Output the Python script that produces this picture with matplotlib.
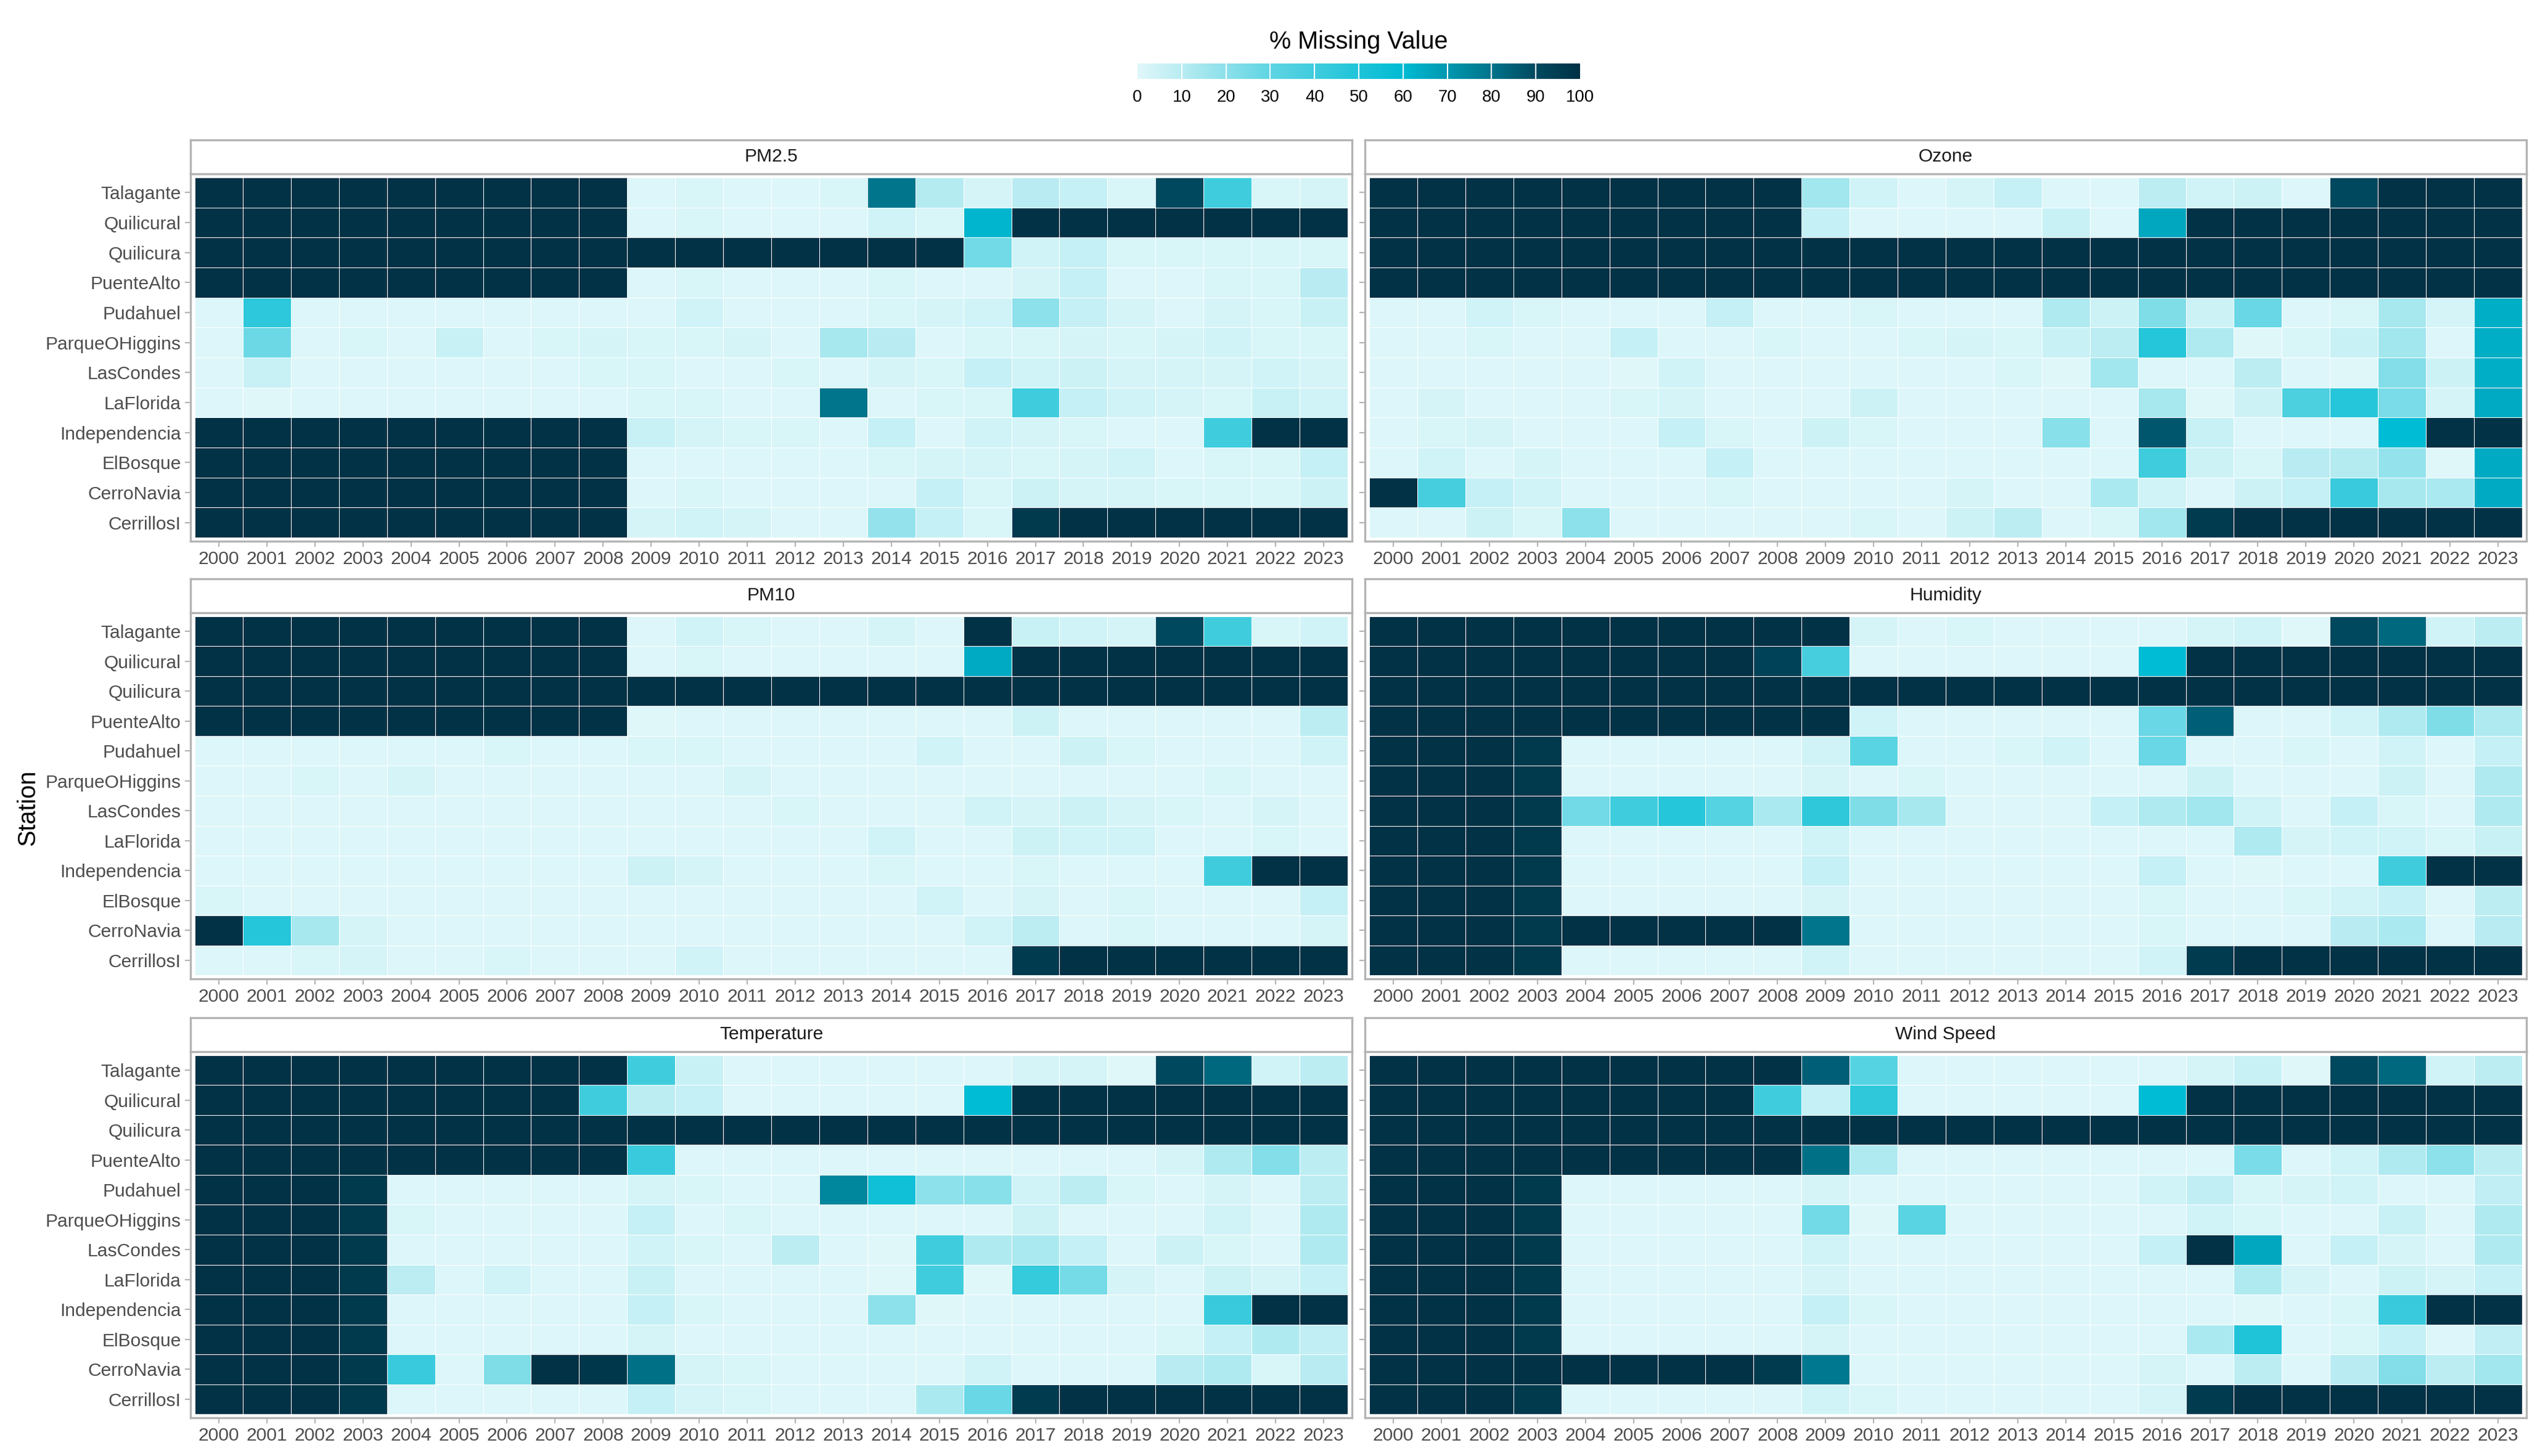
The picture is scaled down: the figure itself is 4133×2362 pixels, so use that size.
import numpy as np
import matplotlib
matplotlib.use('Agg')
import matplotlib.pyplot as plt
from matplotlib.colors import LinearSegmentedColormap
from matplotlib import font_manager

stations = ['Talagante', 'Quilicural', 'Quilicura', 'PuenteAlto', 'Pudahuel', 'ParqueOHiggins',
            'LasCondes', 'LaFlorida', 'Independencia', 'ElBosque', 'CerroNavia', 'CerrillosI']
years = ['2000', '2001', '2002', '2003', '2004', '2005', '2006', '2007', '2008', '2009', '2010', '2011',
         '2012', '2013', '2014', '2015', '2016', '2017', '2018', '2019', '2020', '2021', '2022', '2023']
variables = ['PM2.5', 'Ozone', 'PM10', 'Humidity', 'Temperature', 'Wind Speed']
cbar_ticks = [0, 10, 20, 30, 40, 50, 60, 70, 80, 90, 100]

# % missing per station (rows, top to bottom) and year (columns)
pm25 = [
    [100, 100, 100, 100, 100, 100, 100, 100, 100, 1, 2, 1, 1, 2, 80, 11, 3, 10, 7, 2, 91, 40, 2, 3],
    [100, 100, 100, 100, 100, 100, 100, 100, 100, 1, 2, 1, 1, 1, 4, 2, 62, 100, 100, 100, 100, 100, 100, 100],
    [100, 100, 100, 100, 100, 100, 100, 100, 100, 100, 100, 100, 100, 100, 100, 100, 26, 4, 7, 2, 2, 2, 2, 2],
    [100, 100, 100, 100, 100, 100, 100, 100, 100, 1, 2, 1, 1, 1, 2, 1, 1, 3, 7, 1, 1, 2, 2, 10],
    [1, 46, 1, 1, 1, 1, 1, 1, 1, 1, 4, 1, 1, 1, 2, 3, 4, 20, 7, 3, 1, 3, 2, 6],
    [1, 27, 1, 2, 1, 6, 1, 2, 3, 2, 2, 3, 1, 14, 10, 1, 2, 2, 3, 2, 3, 4, 2, 2],
    [1, 6, 1, 1, 1, 1, 1, 1, 2, 2, 1, 1, 2, 1, 3, 2, 7, 4, 5, 3, 3, 3, 4, 3],
    [1, 0, 1, 1, 1, 1, 1, 1, 1, 2, 2, 1, 1, 80, 1, 2, 2, 40, 7, 4, 3, 2, 6, 4],
    [100, 100, 100, 100, 100, 100, 100, 100, 100, 6, 3, 2, 2, 1, 7, 1, 4, 3, 2, 1, 1, 40, 100, 100],
    [100, 100, 100, 100, 100, 100, 100, 100, 100, 1, 1, 1, 1, 1, 2, 3, 3, 2, 3, 4, 1, 2, 2, 7],
    [100, 100, 100, 100, 100, 100, 100, 100, 100, 1, 2, 1, 1, 1, 1, 7, 2, 5, 3, 3, 2, 2, 2, 5],
    [100, 100, 100, 100, 100, 100, 100, 100, 100, 3, 4, 3, 1, 1, 18, 7, 2, 97, 100, 100, 100, 100, 100, 100],
]

ozone = [
    [100, 100, 100, 100, 100, 100, 100, 100, 100, 15, 4, 1, 3, 7, 1, 1, 9, 4, 5, 1, 91, 100, 100, 100],
    [100, 100, 100, 100, 100, 100, 100, 100, 100, 7, 1, 1, 1, 1, 6, 1, 66, 100, 100, 100, 100, 100, 100, 100],
    [100, 100, 100, 100, 100, 100, 100, 100, 100, 100, 100, 100, 100, 100, 100, 100, 100, 100, 100, 100, 100, 100, 100, 100],
    [100, 100, 100, 100, 100, 100, 100, 100, 100, 100, 100, 100, 100, 100, 100, 100, 100, 100, 100, 100, 100, 100, 100, 100],
    [1, 1, 4, 2, 1, 1, 1, 7, 1, 1, 2, 1, 1, 1, 12, 5, 23, 5, 28, 1, 2, 14, 3, 64],
    [1, 1, 2, 1, 1, 7, 1, 1, 2, 1, 1, 2, 3, 2, 6, 9, 48, 12, 0, 2, 6, 15, 1, 64],
    [1, 1, 1, 1, 1, 0, 4, 1, 1, 1, 1, 1, 1, 2, 0, 15, 1, 1, 9, 1, 0, 22, 5, 64],
    [1, 3, 1, 1, 1, 2, 3, 1, 1, 1, 5, 1, 1, 1, 1, 1, 14, 0, 5, 36, 48, 24, 3, 65],
    [1, 2, 3, 1, 1, 1, 7, 2, 1, 5, 2, 1, 1, 1, 21, 1, 87, 6, 1, 1, 1, 60, 100, 100],
    [1, 4, 1, 3, 1, 1, 1, 7, 1, 1, 1, 1, 1, 1, 1, 1, 40, 5, 2, 10, 11, 18, 0, 65],
    [100, 38, 7, 4, 1, 1, 1, 2, 1, 1, 1, 1, 3, 1, 1, 13, 4, 1, 5, 7, 42, 14, 13, 65],
    [1, 1, 5, 2, 20, 1, 1, 1, 1, 1, 2, 1, 5, 9, 1, 2, 15, 96, 100, 100, 100, 100, 100, 100],
]

pm10 = [
    [100, 100, 100, 100, 100, 100, 100, 100, 100, 1, 4, 2, 1, 1, 3, 1, 100, 6, 4, 3, 91, 40, 2, 4],
    [100, 100, 100, 100, 100, 100, 100, 100, 100, 1, 2, 1, 1, 1, 1, 1, 65, 100, 100, 100, 100, 100, 100, 100],
    [100, 100, 100, 100, 100, 100, 100, 100, 100, 100, 100, 100, 100, 100, 100, 100, 100, 100, 100, 100, 100, 100, 100, 100],
    [100, 100, 100, 100, 100, 100, 100, 100, 100, 0, 1, 1, 1, 1, 1, 1, 1, 5, 1, 1, 1, 1, 1, 9],
    [1, 1, 1, 1, 1, 1, 2, 1, 1, 2, 2, 1, 1, 1, 1, 4, 1, 1, 5, 2, 1, 1, 1, 4],
    [1, 1, 2, 1, 3, 1, 1, 1, 1, 1, 1, 3, 1, 1, 1, 1, 1, 1, 1, 1, 1, 2, 1, 1],
    [1, 1, 1, 1, 1, 1, 1, 1, 1, 1, 1, 1, 2, 1, 1, 1, 4, 3, 5, 3, 2, 1, 3, 1],
    [1, 1, 1, 1, 1, 1, 1, 1, 1, 1, 1, 1, 1, 1, 4, 1, 1, 5, 4, 4, 1, 1, 2, 1],
    [1, 1, 1, 1, 1, 1, 1, 1, 1, 5, 3, 1, 1, 1, 2, 1, 1, 2, 1, 1, 1, 40, 100, 100],
    [2, 1, 1, 1, 1, 1, 1, 1, 1, 1, 1, 1, 1, 1, 1, 4, 1, 3, 1, 2, 1, 1, 1, 7],
    [100, 48, 14, 3, 1, 1, 1, 1, 1, 1, 1, 1, 1, 1, 1, 1, 4, 9, 1, 2, 1, 1, 1, 3],
    [1, 1, 2, 3, 1, 1, 2, 1, 1, 1, 4, 1, 1, 1, 1, 1, 1, 96, 100, 100, 100, 100, 100, 100],
]

humidity = [
    [100, 100, 100, 100, 100, 100, 100, 100, 100, 100, 3, 1, 2, 1, 1, 1, 1, 3, 4, 0, 91, 83, 4, 9],
    [100, 100, 100, 100, 100, 100, 100, 100, 93, 38, 1, 1, 1, 1, 1, 1, 60, 100, 100, 100, 100, 100, 100, 100],
    [100, 100, 100, 100, 100, 100, 100, 100, 100, 100, 100, 100, 100, 100, 100, 100, 100, 100, 100, 100, 100, 100, 100, 100],
    [100, 100, 100, 100, 100, 100, 100, 100, 100, 100, 4, 1, 1, 1, 1, 1, 28, 85, 1, 1, 4, 12, 23, 12],
    [100, 100, 100, 97, 1, 1, 1, 1, 1, 4, 32, 1, 1, 2, 4, 1, 28, 1, 1, 2, 1, 4, 1, 7],
    [100, 100, 100, 97, 1, 1, 1, 1, 1, 3, 1, 2, 1, 1, 1, 1, 1, 5, 1, 1, 1, 5, 1, 12],
    [100, 100, 100, 97, 26, 40, 48, 33, 13, 45, 23, 14, 1, 1, 1, 7, 12, 15, 4, 1, 7, 2, 1, 12],
    [100, 100, 100, 97, 1, 1, 1, 1, 1, 4, 1, 1, 1, 1, 1, 1, 1, 1, 12, 3, 4, 4, 2, 6],
    [100, 100, 100, 97, 1, 1, 1, 1, 1, 7, 1, 1, 1, 1, 1, 1, 7, 1, 0, 1, 1, 40, 100, 100],
    [100, 100, 100, 97, 1, 1, 1, 1, 1, 3, 1, 1, 1, 1, 1, 1, 2, 1, 1, 2, 4, 7, 1, 9],
    [100, 100, 100, 97, 100, 100, 100, 100, 100, 80, 1, 1, 1, 1, 1, 1, 2, 1, 1, 1, 10, 13, 1, 10],
    [100, 100, 100, 97, 1, 1, 1, 1, 1, 4, 1, 1, 1, 1, 1, 1, 4, 96, 100, 100, 100, 100, 100, 100],
]

temperature = [
    [100, 100, 100, 100, 100, 100, 100, 100, 100, 40, 6, 1, 1, 1, 1, 1, 1, 3, 3, 0, 91, 83, 4, 9],
    [100, 100, 100, 100, 100, 100, 100, 100, 40, 9, 7, 1, 1, 1, 1, 1, 60, 100, 100, 100, 100, 100, 100, 100],
    [100, 100, 100, 100, 100, 100, 100, 100, 100, 100, 100, 100, 100, 100, 100, 100, 100, 100, 100, 100, 100, 100, 100, 100],
    [100, 100, 100, 100, 100, 100, 100, 100, 100, 42, 1, 1, 1, 1, 1, 1, 1, 1, 1, 1, 3, 12, 22, 9],
    [100, 100, 100, 97, 1, 1, 1, 1, 1, 3, 2, 1, 1, 75, 55, 20, 21, 4, 9, 2, 1, 3, 1, 9],
    [100, 100, 100, 97, 2, 1, 1, 1, 1, 7, 1, 2, 1, 1, 1, 1, 1, 5, 1, 1, 1, 4, 1, 12],
    [100, 100, 100, 97, 1, 1, 1, 1, 1, 4, 2, 1, 9, 1, 0, 40, 12, 13, 7, 1, 5, 2, 1, 12],
    [100, 100, 100, 97, 9, 1, 4, 1, 1, 6, 1, 1, 1, 1, 0, 40, 0, 43, 25, 3, 1, 5, 3, 7],
    [100, 100, 100, 97, 1, 1, 1, 1, 1, 7, 2, 1, 1, 1, 20, 0, 1, 1, 1, 1, 1, 42, 100, 100],
    [100, 100, 100, 97, 1, 1, 1, 1, 1, 3, 1, 1, 1, 1, 1, 1, 1, 1, 1, 1, 2, 7, 12, 8],
    [100, 100, 100, 97, 42, 1, 23, 100, 98, 81, 3, 2, 1, 1, 1, 1, 4, 1, 1, 1, 10, 12, 2, 10],
    [100, 100, 100, 97, 1, 1, 1, 1, 1, 7, 3, 2, 1, 1, 1, 13, 28, 96, 100, 100, 100, 100, 100, 100],
]

wind_speed = [
    [100, 100, 100, 100, 100, 100, 100, 100, 100, 85, 33, 1, 1, 1, 1, 1, 1, 3, 6, 0, 91, 83, 4, 9],
    [100, 100, 100, 100, 100, 100, 100, 100, 40, 7, 45, 1, 1, 1, 1, 1, 60, 100, 100, 100, 100, 100, 100, 100],
    [100, 100, 100, 100, 100, 100, 100, 100, 100, 100, 100, 100, 100, 100, 100, 100, 100, 100, 100, 100, 100, 100, 100, 100],
    [100, 100, 100, 100, 100, 100, 100, 100, 100, 81, 12, 1, 1, 1, 1, 1, 1, 1, 24, 1, 4, 12, 20, 9],
    [100, 100, 100, 97, 1, 1, 1, 1, 1, 3, 1, 1, 1, 1, 1, 1, 4, 8, 2, 3, 4, 1, 1, 8],
    [100, 100, 100, 97, 1, 1, 1, 1, 1, 26, 0, 32, 1, 1, 1, 1, 1, 4, 2, 1, 1, 6, 1, 12],
    [100, 100, 100, 97, 1, 1, 1, 1, 1, 4, 1, 1, 1, 1, 1, 1, 7, 100, 66, 1, 7, 3, 1, 12],
    [100, 100, 100, 97, 1, 1, 1, 1, 1, 3, 1, 1, 1, 1, 1, 1, 1, 1, 12, 3, 1, 5, 3, 7],
    [100, 100, 100, 97, 1, 1, 1, 1, 1, 7, 2, 1, 1, 1, 1, 1, 1, 1, 0, 1, 2, 42, 100, 100],
    [100, 100, 100, 97, 1, 1, 1, 1, 1, 3, 1, 1, 1, 1, 1, 1, 1, 13, 50, 1, 2, 7, 1, 8],
    [100, 100, 100, 100, 100, 100, 100, 100, 96, 79, 1, 1, 1, 1, 1, 1, 3, 1, 9, 1, 10, 22, 9, 15],
    [100, 100, 100, 97, 1, 1, 1, 1, 1, 4, 2, 1, 1, 1, 1, 1, 3, 96, 100, 100, 100, 100, 100, 100],
]

panel_data = [pm25, ozone, pm10, humidity, temperature, wind_speed]

installed = {f.name for f in font_manager.fontManager.ttflist}
if 'Liberation Sans Narrow' in installed:
    font = 'Liberation Sans Narrow'
    tick_size = 7.7
else:
    font = 'Liberation Sans'
    tick_size = 7.2
plt.rcParams['font.family'] = [font, 'DejaVu Sans']

cmap = LinearSegmentedColormap.from_list('missing', [
    (0.0, '#E0F7FA'), (0.1, '#B8ECF2'), (0.3, '#5FD5E3'), (0.6, '#00BCD4'),
    (0.8, '#00758C'), (0.9, '#004A60'), (1.0, '#013246')])

W, H = 4133, 2362
fig = plt.figure(figsize=(W / 300, H / 300), dpi=300)


def box(x0, y0, x1, y1):
    # pixel box (top-left origin) -> figure fraction rect
    return [x0 / W, 1 - y1 / H, (x1 - x0) / W, (y1 - y0) / H]


col_x = [(309, 2193), (2214, 4098)]
row_y = [(282, 878), (994, 1588), (1706, 2300)]
border = '#b3b3b3'

for i, (name, values) in enumerate(zip(variables, panel_data)):
    r, c = divmod(i, 2)
    x0, x1 = col_x[c]
    y0, y1 = row_y[r]
    ax = fig.add_axes(box(x0, y0, x1, y1))
    arr = np.array(values, dtype=float)
    ax.pcolormesh(np.arange(len(years) + 1) - 0.5, np.arange(len(stations) + 1) - 0.5, arr,
                  cmap=cmap, vmin=0, vmax=100, edgecolors='white', linewidth=0.2)
    ax.set_xlim(-0.59, len(years) - 0.41)
    ax.set_ylim(len(stations) - 0.38, -0.62)
    ax.set_xticks(range(len(years)))
    ax.set_xticklabels(years)
    ax.set_yticks(range(len(stations)))
    if c == 0:
        ax.set_yticklabels(stations)
    else:
        ax.set_yticklabels([])
        ax.tick_params(axis='y', length=0)
    ax.tick_params(length=2.2, width=0.5, color=border, labelsize=tick_size,
                   labelcolor='#4d4d4d', pad=1.5)
    for s in ax.spines.values():
        s.set_color(border)
        s.set_linewidth(0.8)

    strip = fig.add_axes(box(x0, y0 - 55, x1, y0))
    strip.set_xticks([])
    strip.set_yticks([])
    for s in strip.spines.values():
        s.set_color(border)
        s.set_linewidth(0.8)
    strip.text(0.5, 0.5, name, ha='center', va='center', fontsize=tick_size,
               color='#1a1a1a', transform=strip.transAxes)

fig.text(45 / W, 1 - 1310 / H, 'Station', rotation=90, ha='center', va='center', fontsize=9.5)

# colour bar legend
cax = fig.add_axes(box(1845, 103, 2563, 128))
cax.imshow(np.linspace(0, 100, 512)[None, :], cmap=cmap, vmin=0, vmax=100,
           extent=[0, 100, 0, 1], aspect='auto')
for t in cbar_ticks[1:-1]:
    cax.axvline(t, color='white', linewidth=0.5)
cax.set_xlim(0, 100)
cax.set_yticks([])
cax.set_xticks(cbar_ticks)
cax.tick_params(axis='x', length=0, labelsize=6.6, pad=4)
for s in cax.spines.values():
    s.set_visible(False)
fig.text(2204 / W, 1 - 68 / H, '% Missing Value', ha='center', va='center', fontsize=9.5)

fig.savefig('out.png', dpi=300)
